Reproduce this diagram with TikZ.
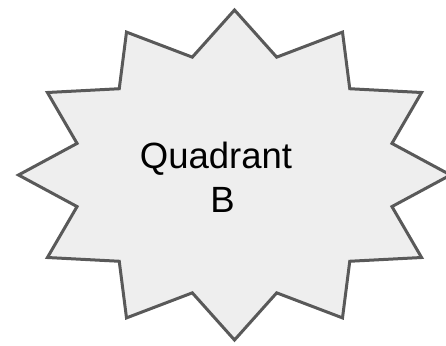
\documentclass[tikz,border=0pt]{standalone}
\usepackage{fontspec}
\setmainfont{Liberation Sans}
\definecolor{starfill}{HTML}{EEEEEE}
\definecolor{stardraw}{HTML}{595959}
\tikzset{
  burst/.style={fill=starfill, draw=stardraw, line width=3pt, line join=miter},
  label/.style={font=\fontsize{36.5}{44}\selectfont, inner sep=0pt, anchor=base, text=black}
}
\begin{document}
\begin{tikzpicture}[x=1pt,y=-1pt]
  \useasboundingbox (0,0) rectangle (446,345);
  \clip (0,0) rectangle (446,345);
  \draw[burst] plot[samples at={0,...,23}]
    ({234.5 + (mod(\x,2)==0 ? 216 : 163)*cos(90+15*\x)},
     {175 - (mod(\x,2)==0 ? 165 : 122)*sin(90+15*\x)}) -- cycle;
  \node[label] (q) at (216,168) {Quadrant};
  \node[label] (b) at (222.5,212) {B};
\end{tikzpicture}
\end{document}
